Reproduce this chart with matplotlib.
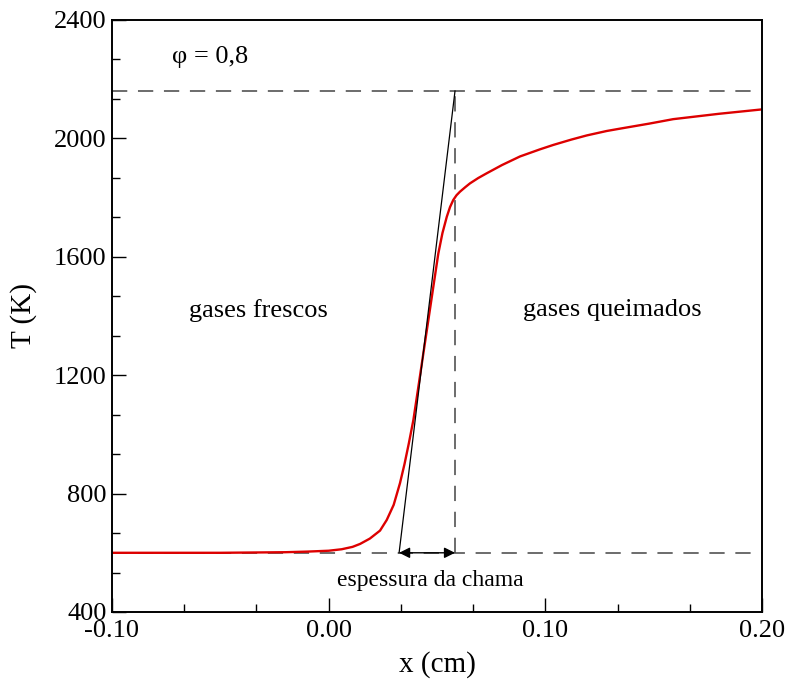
import matplotlib
matplotlib.use("Agg")
import matplotlib.pyplot as plt
from matplotlib.ticker import MultipleLocator, FormatStrFormatter

plt.rcParams['font.family'] = ['Liberation Serif', 'DejaVu Serif']

# temperature profile
x_cm = [-0.100, -0.050, -0.020, -0.010, 0.000, 0.006, 0.011, 0.0145, 0.019,
        0.0237, 0.0268, 0.0300, 0.0329, 0.0350, 0.0370, 0.0391, 0.0414, 0.0437,
        0.0460, 0.0483, 0.0506, 0.0525, 0.0545, 0.0560, 0.0575, 0.0590,
        0.0606, 0.0630, 0.0652, 0.0690, 0.0729, 0.0800, 0.0883, 0.0975,
        0.1037, 0.1120, 0.1191, 0.1283, 0.1345, 0.1480, 0.1590, 0.1800,
        0.2000]
T_K = [600, 600, 602, 604, 607, 612, 620, 630, 648,
       675, 711, 762, 835, 900, 970, 1049, 1161, 1274,
       1386, 1499, 1611, 1680, 1735, 1768, 1792, 1808,
       1820, 1835, 1848, 1866, 1882, 1910, 1939, 1963,
       1978, 1996, 2010, 2025, 2033, 2050, 2065, 2083,
       2098]

T_fresh = 600
T_burnt = 2160
x_tan_start = 0.0325
x_tan_end = 0.0583

fig = plt.figure(figsize=(7.87, 6.80), dpi=100)
ax = fig.add_axes([0.1423, 0.1, 0.826, 0.8706])

dash = (0, (10, 7))
ax.axhline(T_burnt, color='#444444', lw=1.1, ls=dash)
ax.axhline(T_fresh, color='#444444', lw=1.1, ls=dash)
ax.plot([x_tan_end, x_tan_end], [T_fresh, T_burnt], color='#444444', lw=1.1, ls=dash)

ax.plot(x_cm, T_K, color='#dd0000', lw=1.7)
ax.plot([x_tan_start, x_tan_end], [T_fresh, T_burnt], color='black', lw=0.9)

ax.annotate('', xy=(x_tan_end, T_fresh), xytext=(x_tan_start, T_fresh),
            arrowprops=dict(arrowstyle='<|-|>', color='black', lw=1.0,
                            mutation_scale=16, shrinkA=0, shrinkB=0))

ax.text(-0.0723, 2275, 'φ = 0,8', fontsize=19, va='center', ha='left')
ax.text(-0.0326, 1420, 'gases frescos', fontsize=19, va='center', ha='center')
ax.text(0.1308, 1420, 'gases queimados', fontsize=19, va='center', ha='center')
ax.text(0.0468, 508, 'espessura da chama', fontsize=17, va='center', ha='center')

ax.set_xlim(-0.10, 0.20)
ax.set_ylim(400, 2400)
ax.xaxis.set_major_locator(MultipleLocator(0.10))
ax.xaxis.set_minor_locator(MultipleLocator(0.10 / 3))
ax.yaxis.set_major_locator(MultipleLocator(400))
ax.yaxis.set_minor_locator(MultipleLocator(400 / 3))
ax.xaxis.set_major_formatter(FormatStrFormatter('%.2f'))
ax.tick_params(which='both', direction='in', top=False, right=False,
               labelsize=19, width=1.0)
ax.tick_params(axis='x', which='major', length=10, pad=6)
ax.tick_params(axis='y', which='major', length=10, pad=4)
ax.tick_params(which='minor', length=6)
for s in ax.spines.values():
    s.set_linewidth(1.4)

ax.set_xlabel('x (cm)', fontsize=21, labelpad=6)
ax.set_ylabel('T (K)', fontsize=21, labelpad=12)

fig.savefig('out.png', dpi=100)
